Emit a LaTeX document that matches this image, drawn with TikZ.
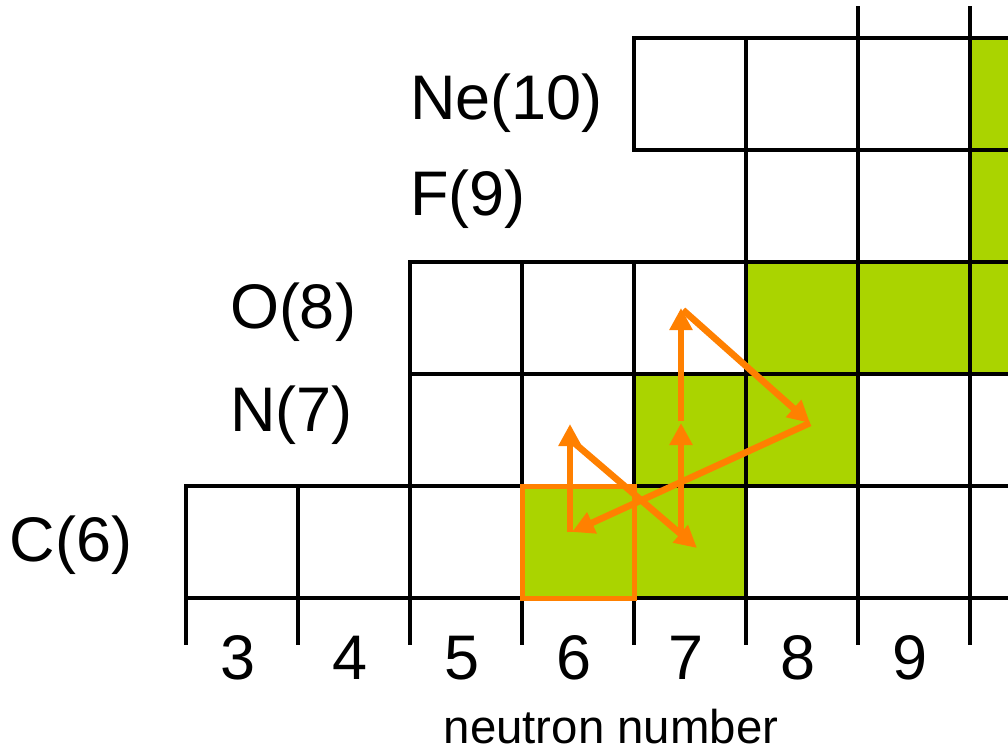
\documentclass[tikz,border=0pt]{standalone}
\usepackage{fontspec}
\setmainfont{Liberation Sans}
\usetikzlibrary{arrows.meta}
\definecolor{nucgreen}{RGB}{170,212,0}
\definecolor{cycorange}{RGB}{255,128,0}
\begin{document}
\begin{tikzpicture}[x=0.5pt,y=-0.5pt,
  cell/.style={draw=black,line width=2.4pt,minimum size=56pt,inner sep=0pt,outer sep=0pt},
  gridline/.style={draw=black,line width=2.4pt},
  obox/.style={draw=cycorange,line width=2.5pt,minimum size=56pt,inner sep=0pt,outer sep=0pt},
  cyc/.style={draw=cycorange,line width=3.3pt,-{Triangle[length=11pt,width=11pt]}},
  lab/.style={inner sep=0pt,outer sep=0pt,font=\fontsize{31.5}{36}\selectfont},
  axlab/.style={inner sep=0pt,outer sep=0pt,font=\fontsize{23.7}{28}\selectfont}]
\useasboundingbox (0,0) rectangle (1008,751);
\fill[white] (0,0) rectangle (1008,751);
\clip (0,0) rectangle (1008,751);
% green cells
\foreach \n/\z in {6/6,7/6,7/7,8/7,8/8,9/8,10/8,10/9,10/10}
  \node[cell,fill=nucgreen] (c-\n-\z) at ({112*\n-94},{1214-112*\z}) {};
% white cells
\foreach \n/\z in {3/6,4/6,5/6,8/6,9/6,10/6,5/7,6/7,9/7,10/7,5/8,6/8,7/8,8/9,9/9,7/10,8/10,9/10}
  \node[cell] (c-\n-\z) at ({112*\n-94},{1214-112*\z}) {};
% ticks below the chart
\foreach \n in {3,...,10}
  \draw[gridline] (c-\n-6.south west) -- ++(0,47);
% lines above the top row
\draw[gridline] (c-9-10.north west) -- ++(0,-32);
\draw[gridline] (c-10-10.north west) -- ++(0,-32);
% starting nucleus
\node[obox] (start) at (c-6-6) {};
% element labels
\node[lab,anchor=base west] (ne) at (410,119) {Ne(10)};
\node[lab,anchor=base west] (f) at (410,215) {F(9)};
\node[lab,anchor=base west] (o) at (230,328) {O(8)};
\node[lab,anchor=base west] (n) at (230,431) {N(7)};
\node[lab,anchor=base west] (c) at (10,561) {C(6)};
% neutron numbers
\foreach \n in {3,...,9}
  \node[lab,anchor=base] (num\n) at ({112*\n-98},679) {\n};
\node[axlab,anchor=base] (axis) at (611,743) {neutron number};
% CNO cycle arrows
\coordinate (p1) at (570,532);
\coordinate (p2) at (570,424);
\coordinate (p3) at (572,441);
\coordinate (p4) at (697,548);
\coordinate (p5) at (681,533);
\coordinate (p6) at (681,423);
\coordinate (p7) at (681,421);
\coordinate (p8) at (681,308);
\coordinate (p9) at (683,310);
\coordinate (p10) at (810,423);
\coordinate (p11) at (572,532);
\draw[cyc] (p1) -- (p2);
\draw[cyc] (p3) -- (p4);
\draw[cyc] (p5) -- (p6);
\draw[cyc] (p7) -- (p8);
\draw[cyc] (p9) -- (p10);
\draw[cyc] (p10) -- (p11);
\end{tikzpicture}
\end{document}
